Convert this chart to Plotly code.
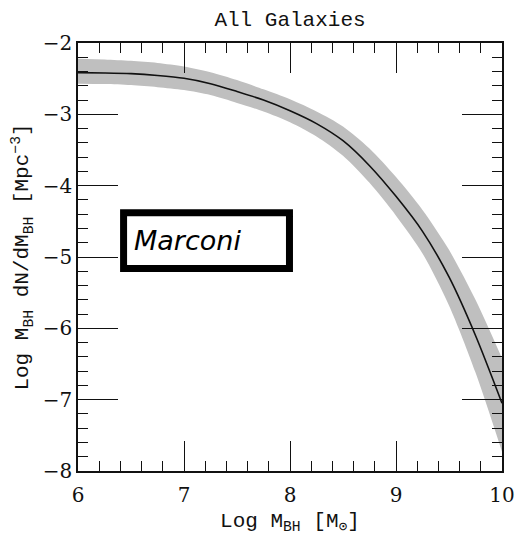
import plotly.graph_objects as go

# black hole mass function (Marconi)
log_mbh = [6.0, 6.25, 6.5, 6.75, 7.0, 7.25, 7.5, 7.75, 8.0,
           8.25, 8.5, 8.75, 9.0, 9.25, 9.5, 9.75, 10.0]
log_phi = [-2.415, -2.42, -2.43, -2.455, -2.495, -2.57, -2.68, -2.80, -2.95,
           -3.13, -3.37, -3.72, -4.15, -4.64, -5.28, -6.10, -7.05]
phi_hi = [-2.22, -2.23, -2.25, -2.28, -2.33, -2.41, -2.52, -2.65, -2.79,
          -2.96, -3.17, -3.48, -3.88, -4.34, -4.90, -5.60, -6.42]
phi_lo = [-2.57, -2.575, -2.59, -2.62, -2.66, -2.73, -2.84, -2.96, -3.11,
          -3.31, -3.58, -3.96, -4.42, -4.95, -5.68, -6.62, -7.73]

SERIF = "DejaVu Serif, Liberation Serif, serif"
MONO = "Liberation Mono, DejaVu Sans Mono, monospace"
BAND = "#bfbfbf"
INK = "#111111"

fig = go.Figure()
fig.add_trace(go.Scatter(x=log_mbh, y=phi_hi, mode="lines", line=dict(width=0, color=BAND, shape="spline", smoothing=0.8),
                         showlegend=False, hoverinfo="skip"))
fig.add_trace(go.Scatter(x=log_mbh, y=phi_lo, mode="lines", line=dict(width=0, color=BAND, shape="spline", smoothing=0.8),
                         fill="tonexty", fillcolor=BAND, showlegend=False, hoverinfo="skip"))
fig.add_trace(go.Scatter(x=log_mbh, y=log_phi, mode="lines", line=dict(width=1.6, color=INK, shape="spline", smoothing=0.8),
                         showlegend=False))

# label box
fig.add_shape(type="rect", x0=6.43, x1=7.995, y0=-5.16, y1=-4.38,
              line=dict(color="black", width=7), fillcolor="white", layer="above")
fig.add_annotation(x=6.51, y=-4.77, xanchor="left", yanchor="middle", showarrow=False,
                   text="<i>Marconi</i>", font=dict(family="DejaVu Sans", size=27, color="black"))

for upd, rng, t0, title, standoff, tlen in (
        (fig.update_xaxes, [6, 10], 6, "Log M<sub>BH</sub> [M<sub>⊙</sub>]", 10, 30),
        (fig.update_yaxes, [-8, -2], -8, "Log M<sub>BH</sub> dN/dM<sub>BH</sub> [Mpc<sup>−3</sup>]", 8, 40)):
    upd(range=rng, tickmode="linear", tick0=t0, dtick=1,
        showline=True, linecolor=INK, linewidth=1.5, mirror="allticks",
        ticks="inside", ticklen=tlen, tickwidth=1.2, tickcolor=INK,
        showgrid=False, zeroline=False, automargin=False,
        tickfont=dict(family=SERIF, size=20, color=INK),
        title=dict(text=title, standoff=standoff, font=dict(family=MONO, size=21, color=INK)))
    upd(minor_ticks="inside", minor_ticklen=10, minor_tickwidth=1.2, minor_tickcolor=INK,
        minor_tickmode="linear", minor_tick0=t0, minor_dtick=0.2, minor_showgrid=False)
fig.update_xaxes(ticklabelstandoff=5)

fig.update_layout(
    width=515, height=535,
    margin=dict(l=78, r=13, t=43, b=64),
    paper_bgcolor="white", plot_bgcolor="white",
    title=dict(text="All Galaxies", xref="paper", x=0.5, xanchor="center", y=0.978, yanchor="top",
               font=dict(family=MONO, size=21, color=INK)),
)

# drop the page's default body margin so the figure fills the window exactly
fig.write_html("out.html", config={"displayModeBar": False},
               post_script="document.body.style.margin='0';")
